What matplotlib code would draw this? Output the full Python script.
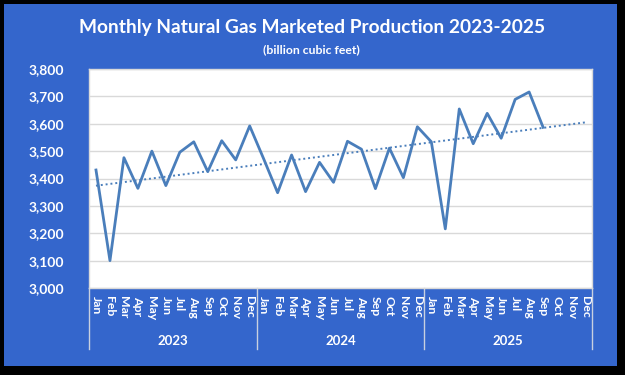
import numpy as np
import matplotlib.pyplot as plt
from matplotlib.patches import Rectangle

years = ["2023", "2024", "2025"]
months = ["Jan", "Feb", "Mar", "Apr", "May", "Jun",
          "Jul", "Aug", "Sep", "Oct", "Nov", "Dec"]

# billion cubic feet, Jan 2023 .. Sep 2025
prod_2023 = [3431, 3100, 3476, 3364, 3500, 3374, 3496, 3534, 3425, 3538, 3468, 3592]
prod_2024 = [3472, 3348, 3486, 3352, 3459, 3386, 3536, 3507, 3363, 3511, 3403, 3589]
prod_2025 = [3534, 3216, 3654, 3527, 3638, 3547, 3689, 3716, 3587]

BLUE_BG = "#3466CC"
LINE = "#4A7EBB"
GRID = "#D9D9D9"
FONT = "Lato"


def main():
    values = np.array(prod_2023 + prod_2024 + prod_2025, dtype=float)
    n_slots = len(years) * len(months)
    x = np.arange(len(values))

    fig = plt.figure(figsize=(6.25, 3.75), dpi=100, facecolor="black")
    fig.patches.append(Rectangle((4 / 625, 9 / 375), 613 / 625, 362 / 375,
                                 transform=fig.transFigure, facecolor=BLUE_BG,
                                 edgecolor="none", zorder=-10))

    ax = fig.add_axes([89 / 625, 87 / 375, 503 / 625, 219 / 375])
    ax.set_facecolor("white")

    ax.plot(x, values, color=LINE, linewidth=2.0, zorder=3)

    # linear trend, extended to end of 2025
    slope, intercept = np.polyfit(x, values, 1)
    xt = np.arange(n_slots)
    ax.plot(xt, slope * xt + intercept, color=LINE, linewidth=1.4,
            linestyle=(0, (1, 1.5)), zorder=2)

    ax.set_xlim(-0.5, n_slots - 0.5)
    ax.set_ylim(3000, 3800)
    ax.set_yticks(np.arange(3000, 3801, 100))
    ax.set_yticklabels([f"{v:,}" for v in range(3000, 3801, 100)],
                       fontsize=10, fontweight="bold", color="white",
                       family=FONT)
    ax.grid(axis="y", color=GRID, linewidth=1)
    ax.set_axisbelow(True)

    ax.set_xticks(np.arange(n_slots))
    ax.set_xticklabels(months * len(years), rotation=270, fontsize=8.8,
                       fontweight="bold", color="white", family=FONT)
    ax.tick_params(axis="both", length=0)
    ax.tick_params(axis="x", pad=6)
    ax.tick_params(axis="y", pad=18)
    for s in ax.spines.values():
        s.set_color(GRID)
        s.set_linewidth(1)

    # year separators and labels below the axis
    trans = ax.get_xaxis_transform()
    for b in np.arange(-0.5, n_slots, len(months)):
        ax.plot([b, b], [0, -61 / 219], color="#C8D0E0", linewidth=1,
                transform=trans, clip_on=False)
    for i, yr in enumerate(years):
        ax.text(i * len(months) + 5.5, -53 / 219, yr, transform=trans,
                ha="center", va="center", fontsize=9.5, fontweight="bold",
                color="white", family=FONT)

    fig.text(312 / 625, 1 - 27 / 375,
             "Monthly Natural Gas Marketed Production 2023-2025",
             ha="center", va="center", fontsize=13.8, fontweight="bold",
             color="white", family=FONT)
    fig.text(311 / 625, 1 - 50 / 375, "(billion cubic feet)",
             ha="center", va="center", fontsize=8.8, fontweight="bold",
             color="white", family=FONT)

    fig.savefig("out.png", dpi=100, facecolor=fig.get_facecolor())


if __name__ == "__main__":
    main()
